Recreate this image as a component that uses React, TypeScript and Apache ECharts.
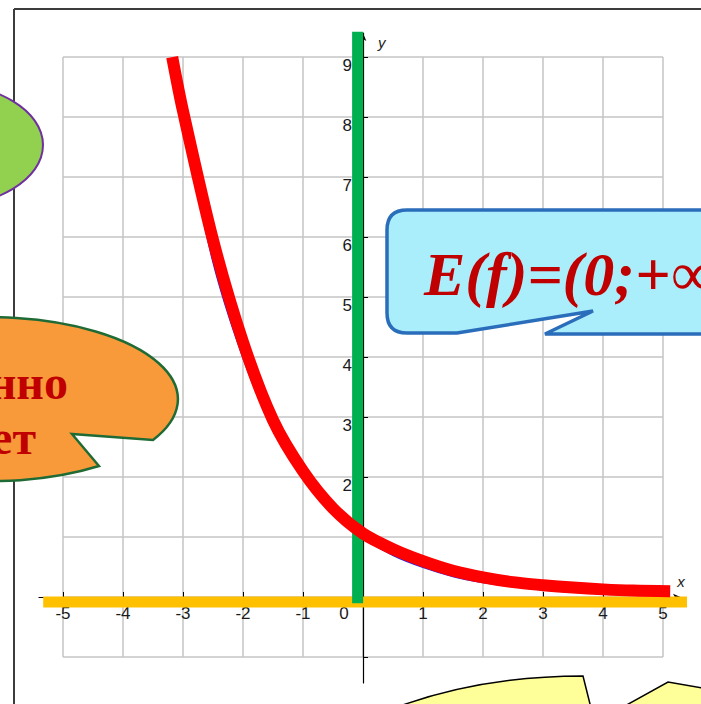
import React, { useEffect, useRef } from "react";
import * as echarts from "echarts";

// Red curve y = (1/2)^x as drawn (x, y pairs)
const redX = [-3.18, -3, -2.5, -2, -1.5, -1, -0.5, 0, 0.5, 1, 1.5, 2, 2.5, 3, 3.5, 4, 4.5, 5.12];
const redY = [9.0, 8.1, 5.95, 4.25, 2.95, 2.1, 1.48, 1.06, 0.8, 0.6, 0.44, 0.33, 0.25, 0.2, 0.16, 0.13, 0.11, 0.1];

// Thin blue plot underneath the red one
const blueX = [-3, -2.5, -2, -1.5, -1, -0.5, 0, 0.5, 1, 1.5, 2, 2.5, 3, 3.5, 4, 4.5, 5];
const blueY = [8, 5.6, 4, 2.8, 2, 1.4, 1, 0.7, 0.5, 0.35, 0.25, 0.18, 0.125, 0.09, 0.06, 0.045, 0.03];

// Range marker (green, vertical) and domain marker (orange, horizontal)
const rangeX = [-0.09, -0.09];
const rangeY = [-0.1, 9.42];
const domainX = [-5.33, 5.42];
const domainY = [-0.08, -0.08];

// Tick labels
const yLabelValues = [2, 3, 4, 5, 6, 7, 8, 9];
const xLabelValues = [-5, -4, -3, -2, -1, 0, 1, 2, 3, 4, 5];

const rangeText = "E(f)=(0;+∞)";
const bubbleLines = ["монотонно", "убывает"];

const zip = (xs: number[], ys: number[]) => xs.map((x, i) => [x, ys[i]]);

echarts.graphic.registerShape(
  "orangeBubble",
  echarts.graphic.extendPath("M 153 440 A 188 82 0 1 0 99 466 L 72 434 Z", {})
);
echarts.graphic.registerShape(
  "blueCallout",
  echarts.graphic.extendPath(
    "M 407 210 L 720 210 L 720 334 L 545 334 L 593 311 L 457 333 L 407 333 Q 387 333 387 313 L 387 230 Q 387 210 407 210 Z",
    {}
  )
);
echarts.graphic.registerShape(
  "yellowLeft",
  echarts.graphic.extendPath("M 389 710 Q 478 676 583 676 L 592 712 Z", {})
);
echarts.graphic.registerShape(
  "yellowRight",
  echarts.graphic.extendPath("M 614 712 L 668 682 L 720 691 L 720 712 Z", {})
);

const sans = '"Liberation Sans", Arial, sans-serif';
const serif = '"Liberation Serif", "Times New Roman", serif';

const hiddenAxis = (gridIndex: number) => ({
  gridIndex,
  type: "value",
  min: 0,
  max: 1,
  show: false,
  axisLine: { show: false, onZero: false },
  axisTick: { show: false },
  axisLabel: { show: false },
  splitLine: { show: false },
});

const tickStyle = { show: true, inside: true, length: 5, lineStyle: { color: "#000", width: 1 } };
const labelFont = { color: "#1a1a1a", fontSize: 17, fontFamily: sans };

export default function App() {
  const ref = useRef<HTMLDivElement>(null);

  useEffect(() => {
    if (!ref.current) return;
    const chart = echarts.init(ref.current, undefined, { renderer: "svg" });

    const option: any = {
      animation: false,
      backgroundColor: "#ffffff",
      grid: [
        // 0: square grid cells, x -5..5, y -1..9
        { left: 63, right: 38, top: 57, bottom: 47 },
        // 1: wider area for the axis lines and curves
        { left: 39, right: 20, top: 33, bottom: 21 },
        // 2: x tick labels, bottom edge on y = 0
        { left: 63, right: 38, top: 57, bottom: 107 },
        // 3: y tick labels, left edge on x = 0
        { left: 363, right: 38, top: 57, bottom: 47 },
      ],
      xAxis: [
        {
          gridIndex: 0,
          type: "value",
          min: -5,
          max: 5,
          interval: 1,
          axisLine: { show: false, onZero: false },
          axisTick: { show: false },
          axisLabel: { show: false },
          splitLine: { show: true, lineStyle: { color: "#c4c4c4", width: 1.5 } },
        },
        {
          gridIndex: 1,
          type: "value",
          min: -5.4,
          max: 5.3,
          axisLine: {
            show: true,
            onZero: true,
            symbol: ["none", "arrow"],
            symbolSize: [5, 8],
            lineStyle: { color: "#000", width: 1.2 },
          },
          axisTick: { show: false },
          axisLabel: { show: false },
          splitLine: { show: false },
          name: "x",
          nameLocation: "end",
          nameGap: 0,
          nameTextStyle: {
            color: "#222",
            fontSize: 15,
            fontStyle: "italic",
            fontFamily: sans,
            align: "center",
            verticalAlign: "bottom",
            padding: [0, 0, 8, 0],
          },
        },
        {
          gridIndex: 2,
          type: "value",
          position: "bottom",
          min: -5,
          max: 5,
          interval: 1,
          axisLine: { show: false, onZero: false },
          axisTick: tickStyle,
          axisLabel: {
            margin: 8,
            ...labelFont,
            formatter: (v: number) =>
              xLabelValues.includes(v) ? (v === 0 ? "{z|0}" : String(v)) : "",
            rich: { z: { padding: [0, 38, 0, 0], ...labelFont } },
          },
          splitLine: { show: false },
        },
        hiddenAxis(3),
      ],
      yAxis: [
        {
          gridIndex: 0,
          type: "value",
          min: -1,
          max: 9,
          interval: 1,
          axisLine: { show: false, onZero: false },
          axisTick: { show: false },
          axisLabel: { show: false },
          splitLine: { show: true, lineStyle: { color: "#c4c4c4", width: 1.5 } },
        },
        {
          gridIndex: 1,
          type: "value",
          min: -1.43,
          max: 9.4,
          axisLine: {
            show: true,
            onZero: true,
            symbol: ["none", "arrow"],
            symbolSize: [5, 8],
            lineStyle: { color: "#000", width: 1.2 },
          },
          axisTick: { show: false },
          axisLabel: { show: false },
          splitLine: { show: false },
          name: "y",
          nameLocation: "end",
          nameGap: 0,
          nameTextStyle: {
            color: "#222",
            fontSize: 15,
            fontStyle: "italic",
            fontFamily: sans,
            align: "left",
            verticalAlign: "top",
            padding: [2, 0, 0, 15],
          },
        },
        hiddenAxis(2),
        {
          gridIndex: 3,
          type: "value",
          position: "left",
          min: -1,
          max: 9,
          interval: 1,
          axisLine: { show: false, onZero: false },
          axisTick: tickStyle,
          axisLabel: {
            margin: 11,
            ...labelFont,
            verticalAlign: "top",
            formatter: (v: number) => (yLabelValues.includes(v) ? String(v) : ""),
          },
          splitLine: { show: false },
        },
      ],
      series: [
        {
          type: "line",
          xAxisIndex: 1,
          yAxisIndex: 1,
          data: zip(domainX, domainY),
          symbol: "none",
          clip: false,
          z: 3,
          lineStyle: { color: "#ffc000", width: 11, cap: "butt" },
        },
        {
          type: "line",
          xAxisIndex: 1,
          yAxisIndex: 1,
          data: zip(rangeX, rangeY),
          symbol: "none",
          clip: false,
          z: 4,
          lineStyle: { color: "#00b050", width: 11, cap: "butt" },
        },
        {
          type: "line",
          xAxisIndex: 1,
          yAxisIndex: 1,
          data: zip(blueX, blueY),
          symbol: "none",
          smooth: 0.3,
          clip: false,
          z: 5,
          lineStyle: { color: "#2323e8", width: 2 },
        },
        {
          type: "line",
          xAxisIndex: 1,
          yAxisIndex: 1,
          data: zip(redX, redY),
          symbol: "none",
          smooth: 0.3,
          clip: false,
          z: 6,
          lineStyle: { color: "#ff0000", width: 12, cap: "butt", join: "round" },
        },
      ],
      graphic: [
        // slide frame
        {
          type: "line",
          z: 1,
          shape: { x1: 14, y1: 9, x2: 720, y2: 9 },
          style: { stroke: "#3c3c3c", lineWidth: 2 },
        },
        {
          type: "line",
          z: 1,
          shape: { x1: 14, y1: 9, x2: 14, y2: 720 },
          style: { stroke: "#3c3c3c", lineWidth: 2 },
        },
        // green bubble
        {
          type: "ellipse",
          z: 50,
          shape: { cx: -60, cy: 145, rx: 103, ry: 62 },
          style: { fill: "#92d050", stroke: "#7030a0", lineWidth: 2 },
        },
        // orange bubble with text
        {
          type: "orangeBubble",
          z: 50,
          x: 0,
          y: 0,
          scaleX: 1,
          scaleY: 1,
          style: { fill: "#f89a3a", stroke: "#1f6b35", lineWidth: 2.5 },
        },
        {
          type: "text",
          z: 51,
          x: 68,
          y: 382,
          style: {
            text: bubbleLines[0],
            fill: "#c00000",
            fontSize: 48,
            fontWeight: "bold",
            fontFamily: serif,
            align: "right",
            verticalAlign: "middle",
          },
        },
        {
          type: "text",
          z: 51,
          x: 36,
          y: 437,
          style: {
            text: bubbleLines[1],
            fill: "#c00000",
            fontSize: 48,
            fontWeight: "bold",
            fontFamily: serif,
            align: "right",
            verticalAlign: "middle",
          },
        },
        // blue callout with range text
        {
          type: "blueCallout",
          z: 50,
          x: 0,
          y: 0,
          scaleX: 1,
          scaleY: 1,
          style: { fill: "#aaedfb", stroke: "#2a6ebb", lineWidth: 3.5 },
        },
        {
          type: "text",
          z: 51,
          x: 424,
          y: 274,
          style: {
            text: rangeText,
            fill: "#c00000",
            fontSize: 62,
            fontWeight: "bold",
            fontStyle: "italic",
            fontFamily: serif,
            align: "left",
            verticalAlign: "middle",
          },
        },
        // yellow shapes at the bottom
        {
          type: "yellowLeft",
          z: 50,
          x: 0,
          y: 0,
          scaleX: 1,
          scaleY: 1,
          style: { fill: "#ffff99", stroke: "#000", lineWidth: 1.5 },
        },
        {
          type: "yellowRight",
          z: 50,
          x: 0,
          y: 0,
          scaleX: 1,
          scaleY: 1,
          style: { fill: "#ffff99", stroke: "#000", lineWidth: 1.5 },
        },
      ],
    };

    chart.setOption(option);
    return () => chart.dispose();
  }, []);

  return (
    <div
      ref={ref}
      style={{ position: "fixed", left: 0, top: 0, width: 701, height: 704, background: "#fff" }}
    />
  );
}
